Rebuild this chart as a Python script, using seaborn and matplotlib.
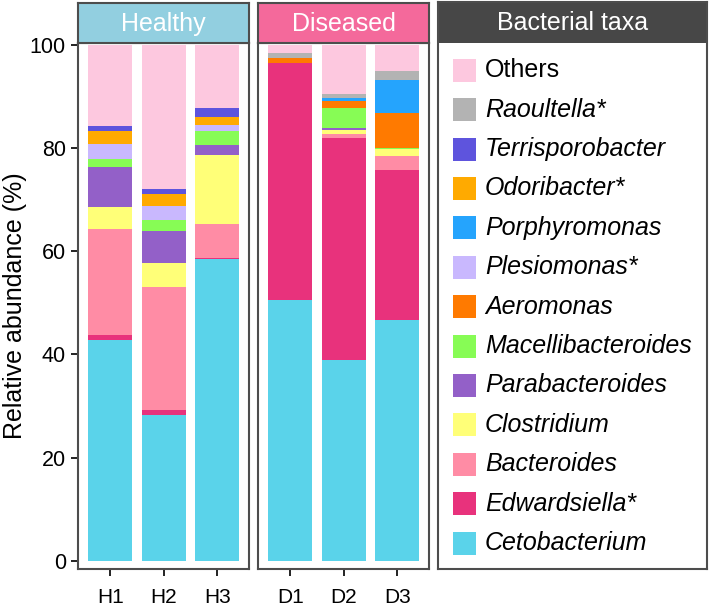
import matplotlib
matplotlib.use('Agg')
import matplotlib.pyplot as plt
import seaborn as sns
import pandas as pd
import numpy as np
from matplotlib.patches import Rectangle

# === DATA (relative abundance, %) ===
samples = ['H1', 'H2', 'H3', 'D1', 'D2', 'D3']
groups = ['Healthy', 'Healthy', 'Healthy', 'Diseased', 'Diseased', 'Diseased']

# stacking order, bottom -> top
taxa = ['Cetobacterium', 'Edwardsiella*', 'Bacteroides', 'Clostridium',
        'Parabacteroides', 'Macellibacteroides', 'Aeromonas', 'Plesiomonas*',
        'Porphyromonas', 'Odoribacter*', 'Terrisporobacter', 'Raoultella*', 'Others']

cetobacterium = [42.7, 28.3, 58.5, 50.6, 38.9, 46.6]
edwardsiella = [1.1, 0.9, 0.1, 45.9, 42.9, 29.0]
bacteroides = [20.5, 23.9, 6.7, 0.0, 0.9, 2.9]
clostridium = [4.3, 4.5, 13.3, 0.0, 0.7, 1.2]
parabacteroides = [7.7, 6.2, 1.9, 0.0, 0.4, 0.0]
macellibacteroides = [1.5, 2.3, 2.7, 0.0, 4.0, 0.2]
aeromonas = [0.0, 0.0, 0.0, 0.8, 1.3, 6.9]
plesiomonas = [3.0, 2.6, 1.3, 0.0, 0.0, 0.0]
porphyromonas = [0.0, 0.0, 0.0, 0.0, 0.5, 6.3]
odoribacter = [2.4, 2.4, 1.4, 0.0, 0.0, 0.0]
terrisporobacter = [1.0, 0.9, 1.9, 0.0, 0.0, 0.0]
raoultella = [0.0, 0.0, 0.0, 1.0, 0.8, 1.7]
others = [15.8, 28.0, 12.2, 1.7, 9.6, 5.2]

taxa_colors = ['#5AD3EA', '#E8327C', '#FF8CA5', '#FFFF78', '#9360C8', '#87FC55',
               '#FF7A00', '#C9B8FE', '#25A4FD', '#FFAA00', '#5E54DD', '#B3B3B3', '#FDC8DF']

group_colors = {'Healthy': '#92CFE0', 'Diseased': '#F4699B'}

# === TABLE ===
values = [cetobacterium, edwardsiella, bacteroides, clostridium, parabacteroides,
          macellibacteroides, aeromonas, plesiomonas, porphyromonas, odoribacter,
          terrisporobacter, raoultella, others]
df = pd.DataFrame(np.array(values).T, columns=taxa)
df.insert(0, 'sample', samples)
df.insert(1, 'group', groups)
cum = df[taxa].cumsum(axis=1)
cum.insert(0, 'sample', samples)
cum.insert(1, 'group', groups)

# === STYLE ===
sns.set_style('white')
plt.rcParams['font.family'] = ['Liberation Sans', 'DejaVu Sans']
plt.rcParams['text.color'] = 'black'
EDGE = '#4D4D4D'
W, H = 709, 611

fig = plt.figure(figsize=(W / 100, H / 100), dpi=100)


def px_axes(x0, y0, x1, y1):
    return fig.add_axes([x0 / W, 1 - y1 / H, (x1 - x0) / W, (y1 - y0) / H])


panels = [('Healthy', 78.3, 249.3), ('Diseased', 258.3, 429.3)]
for i, (grp, x0, x1) in enumerate(panels):
    ax = px_axes(x0, 43, x1, 569)
    sub = cum[cum['group'] == grp]
    order = list(sub['sample'])
    # overdraw cumulative totals from top layer down -> stacked bars
    for taxon, col in zip(taxa[::-1], taxa_colors[::-1]):
        sns.barplot(data=sub, x='sample', y=taxon, order=order, color=col,
                    saturation=1, width=0.82, errorbar=None, linewidth=0, ax=ax)
    ax.set_xlim(-0.6, 2.6)
    ax.set_ylim(-1.6, 100.3)
    ax.set_xlabel('')
    ax.set_ylabel('')
    ax.set_yticks([0, 20, 40, 60, 80, 100])
    for sp in ax.spines.values():
        sp.set_visible(True)
        sp.set_color(EDGE)
        sp.set_linewidth(1.5)
    ax.tick_params(axis='x', length=5, width=1.4, color='#222222', pad=9,
                   labelsize=15, labelcolor='black', bottom=True)
    if i == 0:
        ax.tick_params(axis='y', length=5, width=1.4, color='#222222', pad=4,
                       labelsize=15.5, labelcolor='black', left=True)
    else:
        ax.tick_params(axis='y', left=False, labelleft=False)

    # facet strip
    st = px_axes(x0, 3, x1, 43)
    st.set_facecolor(group_colors[grp])
    st.set_xticks([])
    st.set_yticks([])
    for sp in st.spines.values():
        sp.set_color(EDGE)
        sp.set_linewidth(1.5)
    st.text(0.5, 0.47, grp, color='white', fontsize=18, ha='center', va='center',
            transform=st.transAxes)

fig.text(15 / W, 1 - 306 / H, 'Relative abundance (%)', rotation=90,
         fontsize=18, ha='center', va='center', color='black')

# === LEGEND BOX ===
lax = px_axes(438.3, 2, 707, 569)
lax.set_xlim(438.3, 707)
lax.set_ylim(569, 2)
lax.set_xticks([])
lax.set_yticks([])
for sp in lax.spines.values():
    sp.set_color(EDGE)
    sp.set_linewidth(1.5)
lax.add_patch(Rectangle((438.3, 2), 268.7, 41, facecolor='#474747', edgecolor='none'))
lax.text(572.6, 23, 'Bacterial taxa', color='white', fontsize=18, ha='center', va='center')
for k, (taxon, col) in enumerate(zip(taxa[::-1], taxa_colors[::-1])):
    yc = 70.2 + k * 39.4
    lax.add_patch(Rectangle((452.7, yc - 11.5), 23.3, 23, facecolor=col, edgecolor='none'))
    lax.text(485, yc, taxon, fontsize=18, ha='left', va='center', color='black',
             style='normal' if taxon == 'Others' else 'italic')

fig.savefig('out.png', dpi=100)
